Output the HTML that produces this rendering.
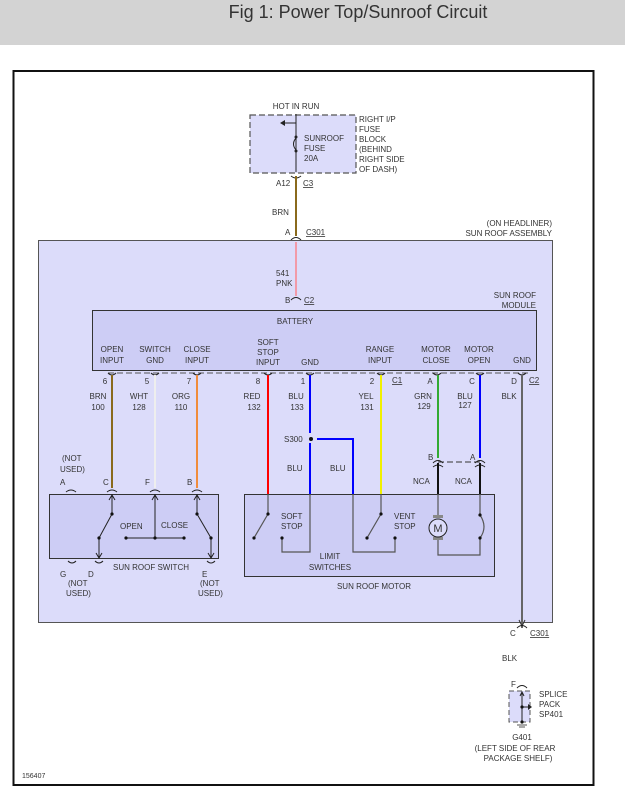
<!DOCTYPE html>
<html><head><meta charset="utf-8"><style>
html,body{margin:0;padding:0;background:#fff;width:625px;height:803px;overflow:hidden}
svg{display:block}
text{font-family:"Liberation Sans",sans-serif;font-size:8px;fill:#333}
</style></head><body>
<svg width="625" height="803" viewBox="0 0 625 803" xmlns="http://www.w3.org/2000/svg">
<rect x="0" y="0" width="625" height="45" fill="#d3d3d3"/>
<text x="358" y="18" text-anchor="middle" style="font-size:18px;fill:#333">Fig 1: Power Top/Sunroof Circuit</text>
<rect x="13.5" y="71" width="580" height="714" fill="#fff" stroke="#111" stroke-width="2"/>

<!-- fuse block -->
<rect x="250" y="115" width="106" height="58" fill="#dcdcfa" stroke="#555" stroke-dasharray="6,3" stroke-width="1.2"/>
<text x="296" y="109" text-anchor="middle">HOT IN RUN</text>
<line x1="296" y1="114" x2="296" y2="172" stroke="#222"/>
<line x1="296" y1="123" x2="282" y2="123" stroke="#222"/><path d="M280 123 l5 -3 v6z" fill="#222"/>
<path d="M296 138 q-5 6 0 12" fill="none" stroke="#222"/>
<circle cx="296" cy="137" r="1.5" fill="#222"/><circle cx="296" cy="151" r="1.5" fill="#222"/>
<text x="304" y="141">SUNROOF</text><text x="304" y="151">FUSE</text><text x="304" y="161">20A</text>
<text x="359" y="122">RIGHT I/P</text><text x="359" y="132">FUSE</text><text x="359" y="142">BLOCK</text><text x="359" y="152">(BEHIND</text><text x="359" y="162">RIGHT SIDE</text><text x="359" y="172">OF DASH)</text>
<path d="M291 176 q5 4 10 0" fill="none" stroke="#222"/>
<text x="276" y="186">A12</text><text x="303" y="186" text-decoration="underline">C3</text>
<line x1="296" y1="176" x2="296" y2="236" stroke="#8a6a1c" stroke-width="2"/>
<text x="272" y="215">BRN</text>
<text x="285" y="235">A</text><text x="306" y="235" text-decoration="underline">C301</text>
<path d="M291 240 q5 -5 10 0" fill="none" stroke="#222"/>
<text x="552" y="226" text-anchor="end">(ON HEADLINER)</text>
<text x="552" y="236" text-anchor="end">SUN ROOF ASSEMBLY</text>

<!-- assembly -->
<rect x="38.5" y="240.5" width="514" height="382" fill="#dcdcfa" stroke="#555"/>
<line x1="296" y1="242" x2="296" y2="296" stroke="#f29aa8" stroke-width="2"/>
<text x="276" y="276">541</text><text x="276" y="286">PNK</text>
<text x="285" y="303">B</text><text x="304" y="303" text-decoration="underline">C2</text>
<path d="M291 300 q5 -5 10 0" fill="none" stroke="#222"/>
<text x="536" y="298" text-anchor="end">SUN ROOF</text><text x="536" y="308" text-anchor="end">MODULE</text>
<rect x="92.5" y="310.5" width="444" height="60" fill="#cdcdf5" stroke="#333"/>
<text x="295" y="324" text-anchor="middle">BATTERY</text>
<g text-anchor="middle">
<text x="112" y="352">OPEN</text><text x="112" y="363">INPUT</text>
<text x="155" y="352">SWITCH</text><text x="155" y="363">GND</text>
<text x="197" y="352">CLOSE</text><text x="197" y="363">INPUT</text>
<text x="268" y="345">SOFT</text><text x="268" y="355">STOP</text><text x="268" y="365">INPUT</text>
<text x="310" y="365">GND</text>
<text x="380" y="352">RANGE</text><text x="380" y="363">INPUT</text>
<text x="436" y="352">MOTOR</text><text x="436" y="363">CLOSE</text>
<text x="479" y="352">MOTOR</text><text x="479" y="363">OPEN</text>
<text x="522" y="363">GND</text>
</g>
<line x1="108" y1="373" x2="528" y2="373" stroke="#555" stroke-dasharray="6,3"/>
<g fill="none" stroke="#222">
<path d="M108 373 q4 4 8 0"/><path d="M151 373 q4 4 8 0"/><path d="M193 373 q4 4 8 0"/><path d="M264 373 q4 4 8 0"/><path d="M306 373 q4 4 8 0"/><path d="M377 373 q4 4 8 0"/><path d="M433 373 q4 4 8 0"/><path d="M476 373 q4 4 8 0"/><path d="M518 373 q4 4 8 0"/>
</g>
<g text-anchor="middle">
<text x="105" y="384">6</text><text x="147" y="384">5</text><text x="189" y="384">7</text><text x="258" y="384">8</text><text x="303" y="384">1</text><text x="372" y="384">2</text><text x="430" y="384">A</text><text x="472" y="384">C</text><text x="514" y="384">D</text>
<text x="98" y="399">BRN</text><text x="98" y="410">100</text>
<text x="139" y="399">WHT</text><text x="139" y="410">128</text>
<text x="181" y="399">ORG</text><text x="181" y="410">110</text>
<text x="252" y="399">RED</text><text x="254" y="410">132</text>
<text x="296" y="399">BLU</text><text x="297" y="410">133</text>
<text x="366" y="399">YEL</text><text x="367" y="410">131</text>
<text x="423" y="399">GRN</text><text x="424" y="409">129</text>
<text x="465" y="399">BLU</text><text x="465" y="408">127</text>
<text x="509" y="399">BLK</text>
</g>
<text x="392" y="383" text-decoration="underline">C1</text>
<text x="529" y="383" text-decoration="underline">C2</text>
<!-- wires -->
<line x1="112" y1="375" x2="112" y2="488" stroke="#8a6a1c" stroke-width="2"/>
<line x1="155" y1="375" x2="155" y2="488" stroke="#eeeeee" stroke-width="2"/>
<line x1="197" y1="375" x2="197" y2="488" stroke="#f08c3c" stroke-width="2"/>
<line x1="268" y1="375" x2="268" y2="494" stroke="#ff0000" stroke-width="2"/>
<line x1="310" y1="375" x2="310" y2="433" stroke="#0000ff" stroke-width="2"/>
<line x1="310" y1="443" x2="310" y2="494" stroke="#0000ff" stroke-width="2"/>
<polyline points="317,439 353,439 353,494" fill="none" stroke="#0000ff" stroke-width="2"/>
<circle cx="311" cy="439" r="2" fill="#111"/><text x="284" y="442">S300</text>
<text x="287" y="471">BLU</text><text x="330" y="471">BLU</text>
<line x1="381" y1="375" x2="381" y2="494" stroke="#f0f000" stroke-width="2"/>
<line x1="438" y1="375" x2="438" y2="458" stroke="#33aa33" stroke-width="2"/>
<line x1="480" y1="375" x2="480" y2="458" stroke="#0000ff" stroke-width="2"/>
<line x1="438" y1="462" x2="480" y2="462" stroke="#333" stroke-dasharray="6,3"/>
<path d="M433 463 q5 -5 10 0 M433 467 q5 -4 10 0 M475 463 q5 -5 10 0 M475 467 q5 -4 10 0" fill="none" stroke="#222"/>
<text x="428" y="460">B</text><text x="470" y="460">A</text>
<line x1="438" y1="463" x2="438" y2="494" stroke="#111" stroke-width="2"/>
<line x1="480" y1="463" x2="480" y2="494" stroke="#111" stroke-width="2"/>
<text x="413" y="484">NCA</text><text x="455" y="484">NCA</text>
<line x1="522" y1="375" x2="522" y2="628" stroke="#666" stroke-width="2"/>
<path d="M519 620 l3 6 l3 -6" fill="none" stroke="#333"/>

<!-- sun roof switch -->
<text x="62" y="461">(NOT</text><text x="60" y="472">USED)</text>
<text x="60" y="485">A</text><text x="103" y="485">C</text><text x="145" y="485">F</text><text x="187" y="485">B</text>
<path d="M66 492 q5 -4 10 0 M107 492 q5 -4 10 0 M150 492 q5 -4 10 0 M192 492 q5 -4 10 0" fill="none" stroke="#222"/>
<rect x="49.5" y="494.5" width="169" height="64" fill="#cdcdf5" stroke="#333"/>
<g stroke="#222" fill="none">
<line x1="112" y1="494" x2="112" y2="514"/><line x1="112" y1="514" x2="99" y2="538"/><line x1="99" y1="538" x2="99" y2="558"/>
<line x1="155" y1="494" x2="155" y2="538"/><line x1="126" y1="538" x2="184" y2="538"/>
<line x1="197" y1="494" x2="197" y2="514"/><line x1="197" y1="514" x2="211" y2="538"/><line x1="211" y1="538" x2="211" y2="558"/>
<path d="M109 500 l3 -5 l3 5 M152 500 l3 -5 l3 5 M194 500 l3 -5 l3 5 M96 553 l3 5 l3 -5 M208 553 l3 5 l3 -5"/>
<path d="M68 561 q4 4 8 0 M95 561 q4 4 8 0 M207 561 q4 4 8 0"/>
</g>
<g fill="#111"><circle cx="112" cy="514" r="1.6"/><circle cx="99" cy="538" r="1.6"/><circle cx="197" cy="514" r="1.6"/><circle cx="211" cy="538" r="1.6"/><circle cx="126" cy="538" r="1.6"/><circle cx="155" cy="538" r="1.6"/><circle cx="184" cy="538" r="1.6"/></g>
<text x="120" y="529">OPEN</text><text x="161" y="528">CLOSE</text>
<text x="113" y="570">SUN ROOF SWITCH</text>
<text x="60" y="577">G</text><text x="88" y="577">D</text><text x="202" y="577">E</text>
<text x="68" y="586">(NOT</text><text x="66" y="596">USED)</text><text x="200" y="586">(NOT</text><text x="198" y="596">USED)</text>

<!-- motor -->
<rect x="244.5" y="494.5" width="250" height="82" fill="#cdcdf5" stroke="#333"/>
<g stroke="#555" fill="none" stroke-width="1.2">
<line x1="268" y1="494" x2="268" y2="514"/><line x1="268" y1="514" x2="254" y2="538"/>
<polyline points="282,538 282,552 310,552 310,494"/>
<polyline points="353,494 353,552 395,552 395,538"/>
<line x1="381" y1="494" x2="381" y2="514"/><line x1="381" y1="514" x2="367" y2="538"/>
<polyline points="438,494 438,517"/><polyline points="438,540 438,555 480,555 480,538"/><line x1="480" y1="494" x2="480" y2="515"/>
<path d="M480 515 q8 12 0 23"/>
</g>
<g fill="#111"><circle cx="268" cy="514" r="1.6"/><circle cx="254" cy="538" r="1.6"/><circle cx="282" cy="538" r="1.6"/><circle cx="381" cy="514" r="1.6"/><circle cx="367" cy="538" r="1.6"/><circle cx="395" cy="538" r="1.6"/><circle cx="480" cy="515" r="1.6"/><circle cx="480" cy="538" r="1.6"/></g>
<rect x="433" y="515" width="10" height="3" fill="#888"/><rect x="433" y="537" width="10" height="3" fill="#888"/>
<circle cx="438" cy="528" r="9" fill="#dcdcfa" stroke="#222"/><text x="438" y="532" text-anchor="middle" style="font-size:11px">M</text>
<text x="281" y="519">SOFT</text><text x="281" y="529">STOP</text>
<text x="394" y="519">VENT</text><text x="394" y="529">STOP</text>
<text x="330" y="559" text-anchor="middle">LIMIT</text><text x="330" y="570" text-anchor="middle">SWITCHES</text>
<text x="374" y="589" text-anchor="middle">SUN ROOF MOTOR</text>

<!-- ground -->
<path d="M517 628 q5 -5 10 0" fill="none" stroke="#222"/>
<text x="510" y="636">C</text><text x="530" y="636" text-decoration="underline">C301</text>
<text x="502" y="661">BLK</text>
<text x="511" y="687">F</text>
<path d="M517 688 q5 -5 10 0" fill="none" stroke="#222"/>
<rect x="509" y="691" width="21" height="31" fill="#dcdcfa" stroke="#555" stroke-dasharray="5,3"/>
<line x1="522" y1="692" x2="522" y2="723" stroke="#222"/>
<path d="M520 696 l2 -4 l2 4" fill="none" stroke="#222"/>
<line x1="522" y1="707" x2="530" y2="707" stroke="#222"/><path d="M532 707 l-4 -3 v6z" fill="#222"/>
<circle cx="522" cy="707" r="1.6" fill="#111"/><circle cx="522" cy="722" r="1.6" fill="#111"/>
<line x1="517" y1="725" x2="527" y2="725" stroke="#555"/><line x1="519" y1="727" x2="525" y2="727" stroke="#555"/>
<text x="539" y="697">SPLICE</text><text x="539" y="707">PACK</text><text x="539" y="717">SP401</text>
<text x="522" y="740" text-anchor="middle">G401</text>
<text x="515" y="751" text-anchor="middle">(LEFT SIDE OF REAR</text>
<text x="518" y="761" text-anchor="middle">PACKAGE SHELF)</text>
<text x="22" y="778" style="font-size:7px">156407</text>
</svg>
</body></html>
